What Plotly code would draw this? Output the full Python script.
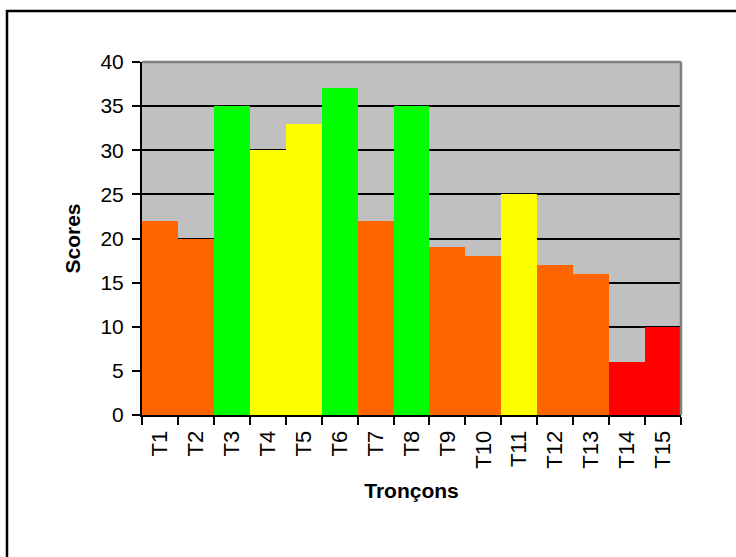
import plotly.graph_objects as go

categories = ["T1", "T2", "T3", "T4", "T5", "T6", "T7", "T8", "T9", "T10", "T11", "T12", "T13", "T14", "T15"]
scores = [22, 20, 35, 30, 33, 37, 22, 35, 19, 18, 25, 17, 16, 6, 10]
bar_colors = ["#FF6600", "#FF6600", "#00FF00", "#FFFF00", "#FFFF00", "#00FF00", "#FF6600", "#00FF00",
              "#FF6600", "#FF6600", "#FFFF00", "#FF6600", "#FF6600", "#FF0000", "#FF0000"]
y_ticks = [0, 5, 10, 15, 20, 25, 30, 35, 40]

W, H = 736, 557
L, R, T, B = 142, 681, 62, 415

fig = go.Figure(go.Bar(x=categories, y=scores, marker=dict(color=bar_colors, line=dict(width=0)),
                       width=1.0))

font = "Arial, Liberation Sans, sans-serif"
fig.update_layout(
    width=W, height=H,
    margin=dict(l=L, r=W - R, t=T, b=H - B, pad=0),
    paper_bgcolor="white", plot_bgcolor="#C0C0C0",
    bargap=0, showlegend=False,
    font=dict(family=font, size=20, color="black"),
)
fig.update_xaxes(
    showgrid=False, showline=True, linecolor="black", linewidth=2,
    ticks="outside", tickson="boundaries", ticklen=8, tickwidth=2, tickcolor="black",
    tickangle=-90, tickfont=dict(size=22), ticklabelstandoff=5,
    title=dict(text="<b>Tronçons</b>", font=dict(size=21), standoff=16),
    range=[-0.5, 14.5],
)
fig.update_yaxes(
    range=[0, 40], tickvals=y_ticks, showgrid=True, gridcolor="black", gridwidth=1.5,
    showline=True, linecolor="black", linewidth=2,
    ticks="outside", ticklen=8, tickwidth=2, tickcolor="black",
    tickfont=dict(size=21), zeroline=False, ticklabelstandoff=4,
    title=dict(text="<b>Scores</b>", font=dict(size=21), standoff=14),
)

def px(x):
    return (x - L) / (R - L)

def py(y):
    return (B - y) / (B - T)

# plot area gray border (top and right)
fig.add_shape(type="line", xref="paper", yref="paper", x0=0, x1=1, y0=1, y1=1,
              line=dict(color="#808080", width=2.5))
fig.add_shape(type="line", xref="paper", yref="paper", x0=1, x1=1, y0=0, y1=1,
              line=dict(color="#808080", width=2.5))
# outer chart frame
fig.add_shape(type="rect", xref="paper", yref="paper",
              x0=px(7), x1=px(745), y0=py(566), y1=py(11),
              line=dict(color="black", width=2.5), layer="above")

fig.write_html("out.html")
